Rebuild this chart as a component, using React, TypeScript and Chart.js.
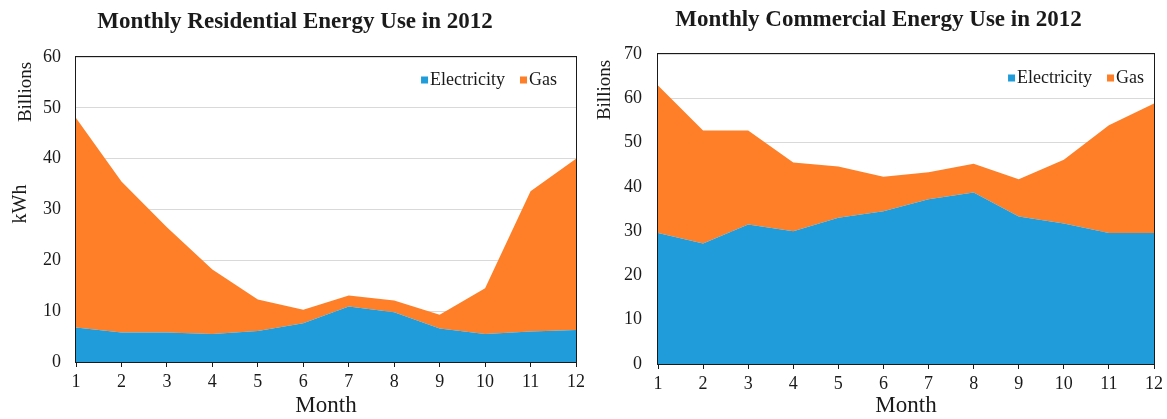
import React, { useEffect, useRef } from 'react';
import { Chart, registerables } from 'chart.js';

Chart.register(...registerables);

const months = ['1', '2', '3', '4', '5', '6', '7', '8', '9', '10', '11', '12'];
const resElectricity = [6.8, 5.8, 5.8, 5.5, 6.1, 7.6, 10.9, 9.8, 6.6, 5.5, 6.0, 6.3];
const resGas = [41.2, 29.7, 20.7, 12.7, 6.2, 2.7, 2.2, 2.3, 2.7, 9.0, 27.6, 33.7];
const comElectricity = [29.6, 27.2, 31.5, 30.0, 33.0, 34.5, 37.2, 38.7, 33.3, 31.7, 29.6, 29.6];
const comGas = [33.3, 25.5, 21.2, 15.5, 11.6, 7.8, 6.1, 6.5, 8.4, 14.4, 24.3, 29.2];
const seriesNames = ['Electricity', 'Gas'];

const BLUE = '#1f9cd9';
const ORANGE = '#fe7f28';
const TEXT = '#1a1a1a';
const FONT = '"Liberation Serif", "Times New Roman", serif';
const H = 419;

type Cfg = {
  title: string;
  elec: number[];
  gas: number[];
  yMax: number;
  x: number;
  width: number;
  plotLeft: number;
  plotRight: number;
  plotTop: number;
  plotBottom: number;
  titleY: number;
  billions: [number, number];
  kwh: [number, number] | null;
  legendRight: number;
  legendY: number;
  tickPad: number;
};

function makeChart(canvas: HTMLCanvasElement, cfg: Cfg) {
  const decor = {
    id: 'decor',
    afterDraw(chart: any) {
      const { ctx, chartArea: a } = chart;
      ctx.save();
      // plot border
      ctx.strokeStyle = TEXT;
      ctx.lineWidth = 1;
      ctx.strokeRect(a.left - 0.5, a.top - 0.5, a.right - a.left + 1, a.bottom - a.top + 1);
      ctx.fillStyle = TEXT;
      // title
      ctx.font = `bold 23px ${FONT}`;
      ctx.textAlign = 'center';
      ctx.textBaseline = 'middle';
      ctx.fillText(cfg.title, cfg.width / 2, cfg.titleY);
      // x title
      ctx.font = `23px ${FONT}`;
      ctx.fillText('Month', (a.left + a.right) / 2, 406);
      // rotated labels
      const rot = (txt: string, x: number, y: number, size: number) => {
        ctx.save();
        ctx.translate(x, y);
        ctx.rotate(-Math.PI / 2);
        ctx.font = `${size}px ${FONT}`;
        ctx.textAlign = 'center';
        ctx.textBaseline = 'middle';
        ctx.fillText(txt, 0, 0);
        ctx.restore();
      };
      rot('Billions', cfg.billions[0], cfg.billions[1], 19);
      if (cfg.kwh) rot('kWh', cfg.kwh[0], cfg.kwh[1], 20);
      // legend
      ctx.font = `18px ${FONT}`;
      ctx.textAlign = 'left';
      ctx.textBaseline = 'middle';
      const box = 7;
      const wG = ctx.measureText(seriesNames[1]).width;
      const wE = ctx.measureText(seriesNames[0]).width;
      const end = a.right - cfg.legendRight;
      const gasX = end - wG;
      const gasBox = gasX - 2 - box;
      const elecX = gasBox - 15 - wE;
      const elecBox = elecX - 2 - box;
      const ly = cfg.legendY;
      ctx.fillStyle = BLUE;
      ctx.fillRect(elecBox, ly - box / 2, box, box);
      ctx.fillStyle = ORANGE;
      ctx.fillRect(gasBox, ly - box / 2, box, box);
      ctx.fillStyle = TEXT;
      ctx.fillText(seriesNames[0], elecX, ly);
      ctx.fillText(seriesNames[1], gasX, ly);
      ctx.restore();
    },
  };

  return new Chart(canvas, {
    type: 'line',
    data: {
      labels: months,
      datasets: [
        {
          label: seriesNames[0],
          data: cfg.elec,
          backgroundColor: BLUE,
          borderColor: 'transparent',
          borderWidth: 0,
          fill: 'origin',
          pointRadius: 0,
          tension: 0,
        },
        {
          label: seriesNames[1],
          data: cfg.gas,
          backgroundColor: ORANGE,
          borderColor: 'transparent',
          borderWidth: 0,
          fill: '-1',
          pointRadius: 0,
          tension: 0,
        },
      ],
    },
    options: {
      animation: false,
      responsive: false,
      devicePixelRatio: 1,
      layout: {
        padding: {
          left: 0,
          right: cfg.width - cfg.plotRight,
          top: cfg.plotTop,
          bottom: 0,
        },
      },
      plugins: {
        legend: { display: false },
        title: { display: false },
        tooltip: { enabled: false },
      },
      scales: {
        x: {
          type: 'category',
          offset: false,
          grid: {
            display: true,
            drawOnChartArea: false,
            drawTicks: true,
            tickLength: 5,
            color: TEXT,
          },
          border: { display: false },
          ticks: {
            font: { family: FONT, size: 18 },
            color: TEXT,
            padding: 4,
            maxRotation: 0,
            autoSkip: false,
          },
          afterFit: (s: any) => {
            s.height = H - cfg.plotBottom;
          },
        },
        y: {
          stacked: true,
          min: 0,
          max: cfg.yMax,
          grid: { color: '#d9d9d9', drawTicks: false, lineWidth: 1 },
          border: { display: false },
          ticks: {
            stepSize: 10,
            font: { family: FONT, size: 18 },
            color: TEXT,
            padding: cfg.tickPad,
          },
          afterFit: (s: any) => {
            s.width = cfg.plotLeft;
          },
        },
      },
    },
    plugins: [decor],
  } as any);
}

function Panel({ cfg }: { cfg: Cfg }) {
  const ref = useRef<HTMLCanvasElement>(null);
  useEffect(() => {
    const chart = makeChart(ref.current as HTMLCanvasElement, cfg);
    return () => chart.destroy();
  }, []);
  return (
    <canvas
      ref={ref}
      width={cfg.width}
      height={H}
      style={{ position: 'absolute', left: cfg.x, top: 0, width: cfg.width, height: H, display: 'block' }}
    />
  );
}

const leftCfg: Cfg = {
  title: 'Monthly Residential Energy Use in 2012',
  elec: resElectricity,
  gas: resGas,
  yMax: 60,
  x: 0,
  width: 590,
  plotLeft: 76,
  plotRight: 576,
  plotTop: 57,
  plotBottom: 362,
  titleY: 22,
  billions: [26, 92],
  kwh: [21, 204],
  legendRight: 19,
  legendY: 80,
  tickPad: 15,
};

const rightCfg: Cfg = {
  title: 'Monthly Commercial Energy Use in 2012',
  elec: comElectricity,
  gas: comGas,
  yMax: 70,
  x: 590,
  width: 577,
  plotLeft: 68,
  plotRight: 564,
  plotTop: 54,
  plotBottom: 364,
  titleY: 20,
  billions: [15, 90],
  kwh: null,
  legendRight: 10,
  legendY: 78,
  tickPad: 16,
};

export default function App() {
  return (
    <div style={{ position: 'absolute', left: 0, top: 0, width: 1167, height: H, background: '#fff', overflow: 'hidden' }}>
      <Panel cfg={leftCfg} />
      <Panel cfg={rightCfg} />
    </div>
  );
}
